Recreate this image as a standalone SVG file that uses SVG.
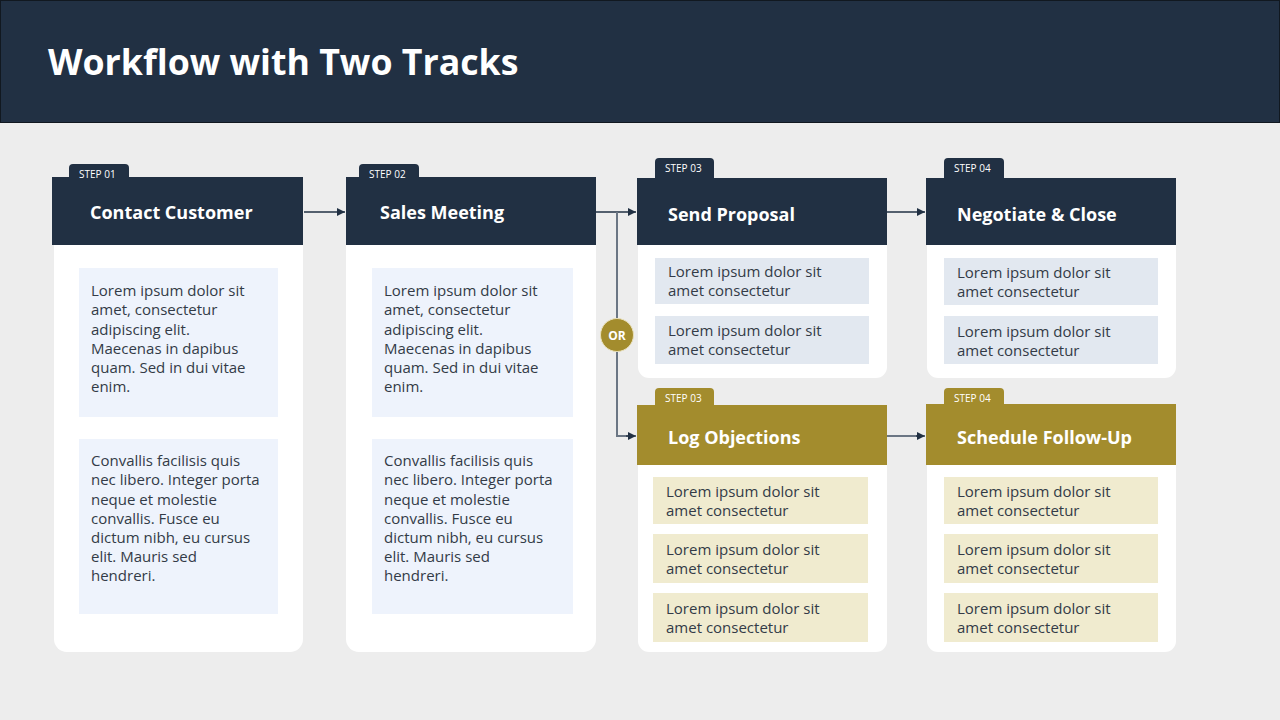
<svg xmlns="http://www.w3.org/2000/svg" width="1280" height="720" viewBox="0 0 1280 720">
<defs>
<style>
.bg{fill:#EDEDED}
.hdr{fill:#213043}
.gold{fill:#A38C2D}
.card{fill:#FFFFFF}
.boxA{fill:#EEF3FC}
.boxB{fill:#E2E8F0}
.boxG{fill:#F0EBCF}
.title{font-family:"Open Sans","Noto Sans",sans-serif;font-weight:700;font-size:35.7px;fill:#FFFFFF}
.head{font-family:"Open Sans","Noto Sans",sans-serif;font-weight:700;font-size:18px;fill:#FFFFFF}
.step{font-family:"Open Sans","Noto Sans",sans-serif;font-size:10px;fill:#FFFFFF}
.body{font-family:"Open Sans","Noto Sans",sans-serif;font-size:15px;fill:#333B47}
.conn{stroke:#213043;stroke-width:1.3;fill:none}
.branch{stroke:#6B7684;stroke-width:2;fill:none}
</style>
<marker id="arr" viewBox="0 0 10 10" refX="10" refY="5" markerWidth="8" markerHeight="8" markerUnits="userSpaceOnUse" orient="auto">
<path d="M0,0 L10,5 L0,10 Z" fill="#213043"/>
</marker>
</defs>
<rect class="bg" x="0" y="0" width="1280" height="720"/>
<rect x="0.5" y="0.5" width="1279" height="122" fill="#213043" stroke="#111820" stroke-width="1"/>
<text class="title" x="48" y="75">Workflow with Two Tracks</text>

<g id="connectors">
<line class="conn" x1="304" y1="212" x2="345" y2="212" marker-end="url(#arr)"/>
<line class="conn" x1="596" y1="212" x2="636" y2="212" marker-end="url(#arr)"/>
<polyline class="branch" points="617,212 617,436 628,436"/>
<line class="conn" x1="626" y1="436" x2="636" y2="436" marker-end="url(#arr)"/>
<line class="conn" x1="887" y1="212" x2="925" y2="212" marker-end="url(#arr)"/>
<line class="branch" x1="887" y1="436" x2="918" y2="436"/>
<line class="conn" x1="916" y1="436" x2="925" y2="436" marker-end="url(#arr)"/>
<g id="or">
<circle cx="617" cy="335" r="16.5" fill="#A38C2D" stroke="#E8DFB8" stroke-width="1"/>
<text x="617" y="339.5" text-anchor="middle" font-family="'Open Sans','Noto Sans',sans-serif" font-weight="700" font-size="12" fill="#FFFFFF">OR</text>
</g>
</g>

<g id="step01">
<rect class="card" x="54" y="200" width="249" height="452" rx="13"/>
<rect class="hdr" x="69" y="164" width="60" height="20" rx="4"/>
<rect class="hdr" x="52" y="177" width="251" height="68"/>
<text class="step" x="79" y="177.5">STEP 01</text>
<text class="head" x="90" y="219">Contact Customer</text>
<rect class="boxA" x="79" y="268" width="199" height="149"/>
<text class="body"><tspan x="91" y="296">Lorem ipsum dolor sit</tspan><tspan x="91" y="315">amet, consectetur</tspan><tspan x="91" y="335">adipiscing elit.</tspan><tspan x="91" y="354">Maecenas in dapibus</tspan><tspan x="91" y="373">quam. Sed in dui vitae</tspan><tspan x="91" y="392">enim.</tspan></text>
<rect class="boxA" x="79" y="439" width="199" height="175"/>
<text class="body"><tspan x="91" y="466">Convallis facilisis quis</tspan><tspan x="91" y="485">nec libero. Integer porta</tspan><tspan x="91" y="505">neque et molestie</tspan><tspan x="91" y="524">convallis. Fusce eu</tspan><tspan x="91" y="543">dictum nibh, eu cursus</tspan><tspan x="91" y="562">elit. Mauris sed</tspan><tspan x="91" y="581">hendreri.</tspan></text>
</g>

<g id="step02">
<rect class="card" x="346" y="200" width="250" height="452" rx="13"/>
<rect class="hdr" x="359" y="164" width="60" height="20" rx="4"/>
<rect class="hdr" x="346" y="177" width="250" height="68"/>
<text class="step" x="369" y="177.5">STEP 02</text>
<text class="head" x="380" y="219">Sales Meeting</text>
<rect class="boxA" x="372" y="268" width="201" height="149"/>
<text class="body"><tspan x="384" y="296">Lorem ipsum dolor sit</tspan><tspan x="384" y="315">amet, consectetur</tspan><tspan x="384" y="335">adipiscing elit.</tspan><tspan x="384" y="354">Maecenas in dapibus</tspan><tspan x="384" y="373">quam. Sed in dui vitae</tspan><tspan x="384" y="392">enim.</tspan></text>
<rect class="boxA" x="372" y="439" width="201" height="175"/>
<text class="body"><tspan x="384" y="466">Convallis facilisis quis</tspan><tspan x="384" y="485">nec libero. Integer porta</tspan><tspan x="384" y="505">neque et molestie</tspan><tspan x="384" y="524">convallis. Fusce eu</tspan><tspan x="384" y="543">dictum nibh, eu cursus</tspan><tspan x="384" y="562">elit. Mauris sed</tspan><tspan x="384" y="581">hendreri.</tspan></text>
</g>

<g id="step03a">
<rect class="card" x="638" y="200" width="249" height="178" rx="11"/>
<rect class="hdr" x="655" y="158" width="59" height="24" rx="4"/>
<rect class="hdr" x="637" y="178" width="250" height="67"/>
<text class="step" x="665" y="171.5">STEP 03</text>
<text class="head" x="668" y="221">Send Proposal</text>
<rect class="boxB" x="655" y="258" width="214" height="46"/>
<text class="body"><tspan x="668" y="277">Lorem ipsum dolor sit</tspan><tspan x="668" y="296">amet consectetur</tspan></text>
<rect class="boxB" x="655" y="316" width="214" height="48"/>
<text class="body"><tspan x="668" y="336">Lorem ipsum dolor sit</tspan><tspan x="668" y="355">amet consectetur</tspan></text>
</g>

<g id="step04a">
<rect class="card" x="927" y="200" width="249" height="178" rx="11"/>
<rect class="hdr" x="944" y="158" width="60" height="24" rx="4"/>
<rect class="hdr" x="926" y="178" width="250" height="67"/>
<text class="step" x="954" y="171.5">STEP 04</text>
<text class="head" x="957" y="221">Negotiate &amp; Close</text>
<rect class="boxB" x="944" y="258" width="214" height="47"/>
<text class="body"><tspan x="957" y="278">Lorem ipsum dolor sit</tspan><tspan x="957" y="297">amet consectetur</tspan></text>
<rect class="boxB" x="944" y="316" width="214" height="48"/>
<text class="body"><tspan x="957" y="337">Lorem ipsum dolor sit</tspan><tspan x="957" y="356">amet consectetur</tspan></text>
</g>

<g id="step03b">
<rect class="card" x="638" y="430" width="249" height="222" rx="11"/>
<rect class="gold" x="655" y="388" width="59" height="22" rx="4"/>
<rect class="gold" x="637" y="405" width="250" height="60"/>
<text class="step" x="665" y="401.5">STEP 03</text>
<text class="head" x="668" y="444">Log Objections</text>
<rect class="boxG" x="653" y="477" width="215" height="47"/>
<text class="body"><tspan x="666" y="497">Lorem ipsum dolor sit</tspan><tspan x="666" y="516">amet consectetur</tspan></text>
<rect class="boxG" x="653" y="534" width="215" height="49"/>
<text class="body"><tspan x="666" y="555">Lorem ipsum dolor sit</tspan><tspan x="666" y="574">amet consectetur</tspan></text>
<rect class="boxG" x="653" y="593" width="215" height="49"/>
<text class="body"><tspan x="666" y="614">Lorem ipsum dolor sit</tspan><tspan x="666" y="633">amet consectetur</tspan></text>
</g>

<g id="step04b">
<rect class="card" x="927" y="430" width="249" height="222" rx="11"/>
<rect class="gold" x="944" y="388" width="60" height="22" rx="4"/>
<rect class="gold" x="926" y="404" width="250" height="61"/>
<text class="step" x="954" y="401.5">STEP 04</text>
<text class="head" x="957" y="444">Schedule Follow-Up</text>
<rect class="boxG" x="944" y="477" width="214" height="47"/>
<text class="body"><tspan x="957" y="497">Lorem ipsum dolor sit</tspan><tspan x="957" y="516">amet consectetur</tspan></text>
<rect class="boxG" x="944" y="534" width="214" height="49"/>
<text class="body"><tspan x="957" y="555">Lorem ipsum dolor sit</tspan><tspan x="957" y="574">amet consectetur</tspan></text>
<rect class="boxG" x="944" y="593" width="214" height="49"/>
<text class="body"><tspan x="957" y="614">Lorem ipsum dolor sit</tspan><tspan x="957" y="633">amet consectetur</tspan></text>
</g>
</svg>
